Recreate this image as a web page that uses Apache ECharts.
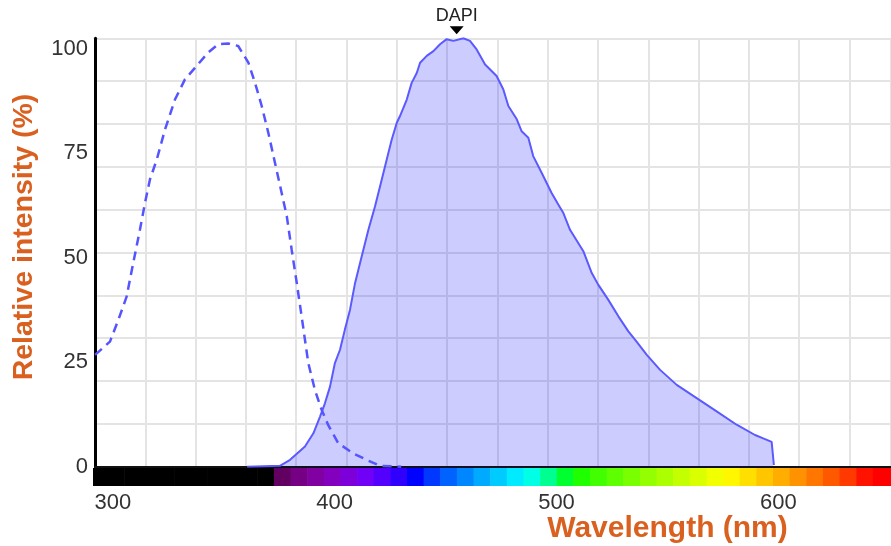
<!DOCTYPE html>
<html>
<head>
<meta charset="utf-8">
<title>DAPI spectrum</title>
<script src="https://cdn.jsdelivr.net/npm/echarts@6/dist/echarts.min.js"></script>
<style>
  html, body { margin: 0; padding: 0; background: #ffffff; }
  #chart { width: 891px; height: 546px; }
</style>
</head>
<body>
<div id="chart"></div>
<script>
// DAPI excitation (dashed) and emission (filled) spectra, [wavelength nm, relative intensity %]
const excitation = [
  [292, 26.1], [298.7, 29.2], [302.5, 34.3], [306.2, 39.7], [309.2, 47.6], [312.2, 55.3],
  [314.5, 61.6], [316.7, 67.0], [319.8, 71.7], [323.5, 78.7], [328.0, 85.7], [332.5, 90.4],
  [337.0, 93.1], [343.0, 96.7], [347.5, 98.6], [352.0, 98.8], [356.5, 98.2], [361.1, 94.3],
  [364.1, 89.6], [367.1, 84.2], [370.1, 77.9], [373.1, 70.9], [376.1, 63.9], [378.4, 58.5],
  [380.6, 50.7], [382.9, 42.9], [385.1, 35.1], [388.1, 24.2], [391.1, 17.9], [394.1, 13.3],
  [397.1, 9.7], [401.6, 5.5], [408.4, 3.1], [414.4, 1.6], [420.4, 0.2], [430, 0]
];

const emission = [
  [360.5, 0], [375.3, 0.2], [379.9, 1.6], [386.6, 4.7], [390.4, 7.8], [393.4, 11.7],
  [395.6, 14.8], [397.9, 18.7], [400.1, 24.2], [402.4, 27.3], [404.6, 32.0], [406.9, 36.6],
  [409.2, 42.9], [412.2, 49.1], [415.2, 55.3], [418.2, 60.8], [421.2, 67.0], [424.2, 73.2],
  [425.7, 76.3], [428.0, 80.3], [429.4, 81.8], [432.5, 85.7], [434.7, 89.6], [437.0, 91.9],
  [438.5, 94.3], [441.5, 95.9], [444.5, 97.0], [447.5, 98.6], [450.5, 99.8], [453.5, 99.4],
  [458.0, 100], [461.0, 99.4], [464.0, 97.4], [467.8, 93.9], [473.0, 91.2], [476.0, 88.1],
  [478.3, 84.2], [482.1, 81.1], [484.3, 78.3], [487.3, 76.8], [489.5, 72.5], [493.3, 68.6],
  [497.8, 63.9], [500.8, 61.2], [503.1, 59.2], [506.1, 55.3], [512.1, 50.3], [515.9, 45.2],
  [518.8, 42.5], [523.3, 39.0], [527.9, 35.1], [532.4, 31.6], [536.1, 29.2], [540.7, 26.1],
  [546.7, 22.6], [554.2, 19.1], [563.2, 16.0], [572.2, 12.9], [581.2, 9.8], [589.5, 7.4],
  [593.2, 6.6], [597.0, 5.8], [598.0, 0.4]
];

const wavelengthTicks = [300, 400, 500, 600];
const intensityTicks = [0, 25, 50, 75, 100];
const dyeName = 'DAPI';
const dyePeak = [455, 100];

// Visible-spectrum strip: colour blocks of equal width along the wavelength axis
const stripStart = 290.1;
const stripStep = 7.5;
const stripEnd = 660;

function spectrumColor(w) {
  let r = 0, g = 0, b = 0;
  if (w >= 380 && w < 440) { r = -(w - 440) / 60; b = 1; }
  else if (w >= 440 && w < 490) { g = (w - 440) / 50; b = 1; }
  else if (w >= 490 && w < 510) { g = 1; b = -(w - 510) / 20; }
  else if (w >= 510 && w < 580) { r = (w - 510) / 70; g = 1; }
  else if (w >= 580 && w < 645) { r = 1; g = -(w - 645) / 65; }
  else if (w >= 645 && w <= 780) { r = 1; }
  let f = 0;
  if (w >= 380 && w < 420) f = 0.3 + 0.7 * (w - 380) / 40;
  else if (w >= 420 && w <= 700) f = 1;
  else if (w > 700 && w <= 780) f = 0.3 + 0.7 * (780 - w) / 80;
  const c = v => (v <= 0 ? 0 : Math.round(255 * Math.pow(v * f, 0.8)));
  return 'rgb(' + c(r) + ',' + c(g) + ',' + c(b) + ')';
}

const stripBlocks = [];
for (let w = stripStart; w < stripEnd; w += stripStep) {
  stripBlocks.push([w, w + stripStep]);
}

const wlMin = 291.95, wlMax = 650.8;      // plot area
const stripMin = 291.05;                  // strip starts 2px left of the axis
const titleColor = '#d9601f';
const textColor = '#333333';

const chart = echarts.init(document.getElementById('chart'), null, { renderer: 'canvas' });

chart.setOption({
  backgroundColor: '#ffffff',
  animation: false,
  grid: [
    { left: 95, top: 38.3, right: 0, height: 428.4 },
    { left: 93, top: 468, right: 0, height: 18 }
  ],
  xAxis: [
    {
      type: 'value', gridIndex: 0, min: wlMin, max: wlMax,
      axisLine: { show: true, onZero: false, lineStyle: { color: '#111111', width: 2 } },
      axisTick: { show: false }, axisLabel: { show: false }, splitLine: { show: false }
    },
    {
      // vertical grid lines
      type: 'value', gridIndex: 0, min: 0, max: 15.825, interval: 1, position: 'top',
      axisLine: { show: false }, axisTick: { show: false }, axisLabel: { show: false },
      splitLine: { show: true, lineStyle: { color: '#e4e4e4', width: 2 } }
    },
    {
      type: 'value', gridIndex: 1, min: stripMin, max: wlMax,
      axisLine: { show: false }, axisTick: { show: false }, splitLine: { show: false },
      axisLabel: {
        show: true, customValues: wavelengthTicks, margin: 6,
        color: textColor, fontSize: 22, fontFamily: 'Liberation Sans, Arial, sans-serif'
      }
    }
  ],
  yAxis: [
    {
      type: 'value', gridIndex: 0, min: 0, max: 100, interval: 10,
      axisLine: { show: true, lineStyle: { color: '#000000', width: 3 } },
      axisTick: { show: false }, axisLabel: { show: false },
      splitLine: { show: true, lineStyle: { color: '#e4e4e4', width: 2 } }
    },
    {
      // intensity labels
      type: 'value', gridIndex: 0, min: 0, max: 102.5, position: 'left', offset: 0,
      axisLine: { show: false }, axisTick: { show: false }, splitLine: { show: false },
      axisLabel: {
        show: true, customValues: intensityTicks, margin: 7,
        color: textColor, fontSize: 22, fontFamily: 'Liberation Sans, Arial, sans-serif'
      }
    },
    {
      type: 'value', gridIndex: 1, min: 0, max: 1, show: false
    }
  ],
  series: [
    {
      name: 'Emission', type: 'line', xAxisIndex: 0, yAxisIndex: 0,
      data: emission, symbol: 'none', smooth: false,
      lineStyle: { color: '#5a5aff', width: 2 },
      areaStyle: { color: 'rgba(0, 0, 255, 0.2)', opacity: 1 },
      markPoint: {
        symbol: 'triangle', symbolRotate: 180, symbolSize: [14, 8], symbolOffset: [0, -8],
        itemStyle: { color: '#000000' },
        label: {
          show: true, position: 'top', distance: 1, formatter: dyeName,
          color: '#222222', fontSize: 18, fontFamily: 'Liberation Sans, Arial, sans-serif'
        },
        data: [{ coord: dyePeak }]
      }
    },
    {
      name: 'Excitation', type: 'line', xAxisIndex: 0, yAxisIndex: 0,
      data: excitation, symbol: 'none', smooth: false,
      lineStyle: { color: '#5555ff', width: 2.5, type: [9, 6] }
    },
    {
      name: 'Spectrum', type: 'custom', xAxisIndex: 2, yAxisIndex: 2,
      clip: true, silent: true,
      data: stripBlocks,
      renderItem: function (params, api) {
        const a = api.value(0), b = api.value(1);
        const p0 = api.coord([a, 1]);
        const p1 = api.coord([b, 0]);
        return {
          type: 'rect',
          shape: { x: p0[0], y: p0[1], width: p1[0] - p0[0] + 0.6, height: p1[1] - p0[1] },
          style: { fill: spectrumColor(b) }
        };
      }
    }
  ],
  graphic: [
    {
      type: 'text', x: 667.5, y: 528.5,
      style: {
        text: 'Wavelength (nm)', fill: titleColor, align: 'center', verticalAlign: 'middle',
        font: 'bold 30px "Liberation Sans", Arial, sans-serif'
      }
    },
    {
      type: 'text', x: 24, y: 237, rotation: Math.PI / 2,
      style: {
        text: 'Relative intensity (%)', fill: titleColor, align: 'center', verticalAlign: 'middle',
        font: 'bold 28.5px "Liberation Sans", Arial, sans-serif'
      }
    }
  ]
});
</script>
</body>
</html>
